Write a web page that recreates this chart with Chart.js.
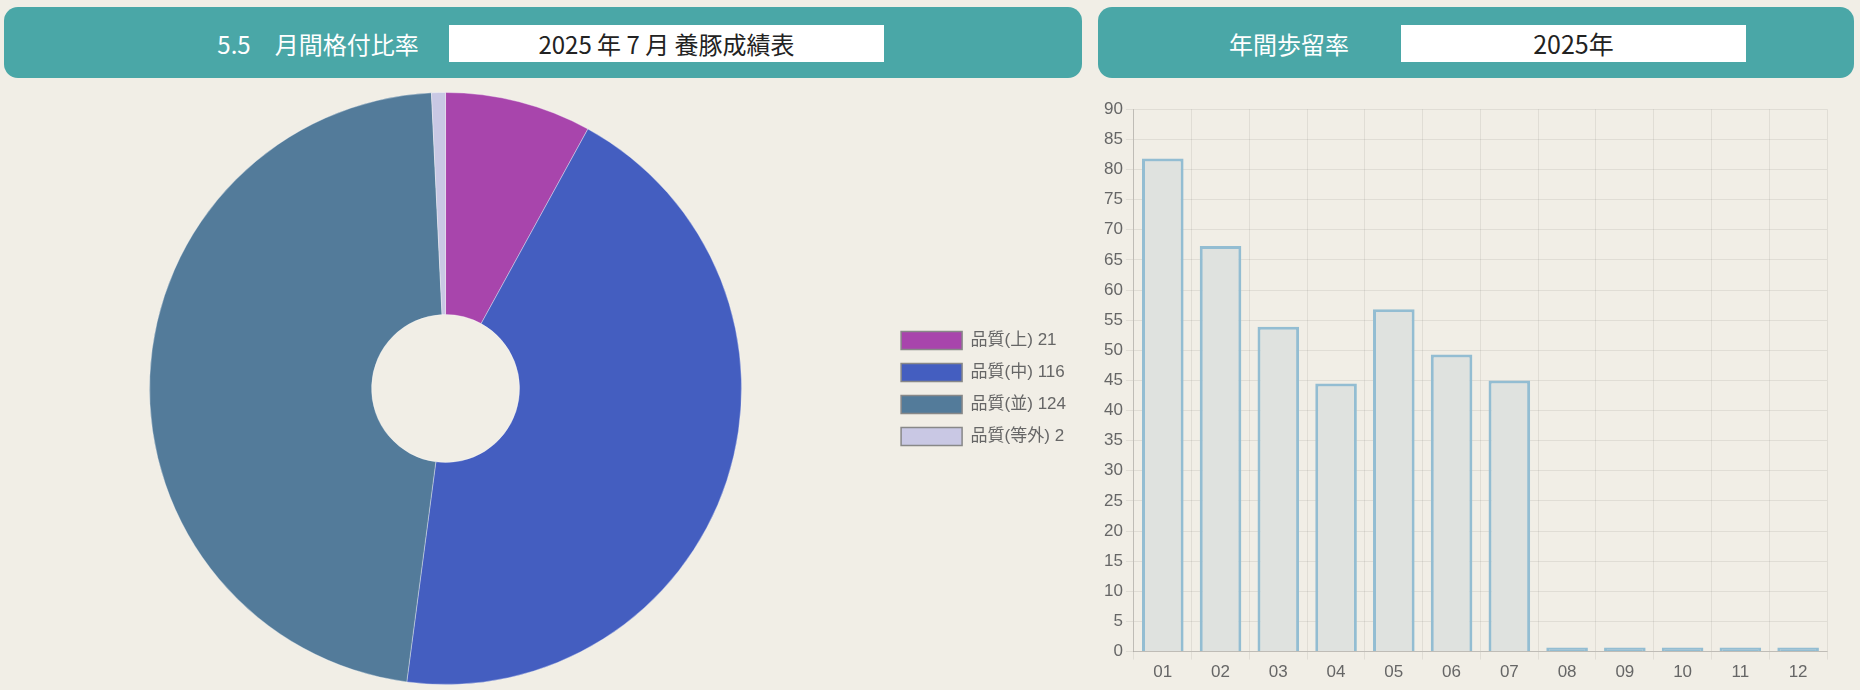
<!DOCTYPE html>
<html lang="ja">
<head>
<meta charset="utf-8">
<script src="https://cdn.jsdelivr.net/npm/chart.js@4/dist/chart.umd.min.js"></script>
<style>
  html, body { margin: 0; padding: 0; }
  body {
    width: 1860px; height: 690px; overflow: hidden; position: relative;
    background: #f1eee6;
    font-family: "Noto Sans CJK JP", "Noto Sans", sans-serif;
  }
  .head {
    position: absolute; top: 7px; height: 71px;
    background: #4aa7a7; border-radius: 14px;
  }
  .lbl {
    position: absolute; top: 25px; height: 37px; line-height: 37px;
    color: #fff; font-size: 24px; text-align: center; white-space: nowrap;
  }
  .box {
    position: absolute; top: 25px; height: 37px; line-height: 37px;
    background: #fff; color: #222; font-size: 24px; text-align: center; white-space: nowrap;
  }
  .wrap { position: absolute; }
</style>
</head>
<body>
<div class="head" style="left:4px; width:1078px;"></div>
<div class="lbl" style="left:198px; width:240px;">5.5　月間格付比率</div>
<div class="box" style="left:449px; width:435px;">2025 年 7 月 養豚成績表</div>

<div class="head" style="left:1098px; width:756px;"></div>
<div class="lbl" style="left:1189px; width:200px;">年間歩留率</div>
<div class="box" style="left:1401px; width:345px; font-size:25px;">2025年</div>

<div class="wrap" style="left:4px; top:92px; width:1072px; height:593px;"><canvas id="grade"></canvas></div>
<div class="wrap" style="left:1098px; top:96px; width:752px; height:594px;"><canvas id="yield"></canvas></div>

<script>
// 月間格付 (2025年7月)
const gradeNames = ['品質(上)', '品質(中)', '品質(並)', '品質(等外)'];
const gradeCounts = [21, 116, 124, 2];
const gradeColors = ['#a845ac', '#445ec0', '#537b9a', '#c9c8e4'];

// 年間歩留率
const months = ['01', '02', '03', '04', '05', '06', '07', '08', '09', '10', '11', '12'];
const yieldRates = [81.8, 67.3, 53.9, 44.5, 56.8, 49.3, 45.0, 0, 0, 0, 0, 0];

Chart.defaults.font.family = "'Helvetica Neue', Helvetica, Arial, 'Noto Sans CJK JP', sans-serif";
Chart.defaults.color = '#666';
Chart.defaults.animation = false;

var gradeLabels = gradeNames.map(function (n, i) { return n + ' ' + gradeCounts[i]; });

new Chart(document.getElementById('grade'), {
  type: 'doughnut',
  data: {
    labels: gradeLabels,
    datasets: [{
      data: gradeCounts,
      backgroundColor: gradeColors,
      borderColor: 'rgba(255,255,255,0.35)',
      borderWidth: 1
    }]
  },
  options: {
    responsive: true,
    maintainAspectRatio: false,
    cutout: '25%',
    layout: { padding: 0 },
    plugins: {
      tooltip: { enabled: false },
      legend: {
        position: 'right',
        labels: {
          boxWidth: 61,
          boxHeight: 18,
          padding: 14,
          font: { size: 17 },
          generateLabels: function (chart) {
            var items = Chart.overrides.doughnut.plugins.legend.labels.generateLabels(chart);
            items.forEach(function (it) { it.strokeStyle = '#888'; it.lineWidth = 1.5; });
            return items;
          }
        }
      }
    }
  }
});

var barLine = '#93bdd2';

new Chart(document.getElementById('yield'), {
  type: 'bar',
  data: {
    labels: months,
    datasets: [{
      data: yieldRates,
      // empty months show as a flat line on the axis
      backgroundColor: yieldRates.map(function (v) { return v === 0 ? barLine : '#dfe2df'; }),
      borderColor: barLine,
      borderWidth: 3,
      minBarLength: 4
    }]
  },
  options: {
    responsive: true,
    maintainAspectRatio: false,
    layout: { padding: { top: 5, right: 23, bottom: 4, left: 3 } },
    plugins: { legend: { display: false }, tooltip: { enabled: false } },
    scales: {
      x: {
        grid: { color: 'rgba(0,0,0,0.07)' },
        border: { color: 'rgba(0,0,0,0.15)' },
        ticks: { font: { size: 17 } }
      },
      y: {
        min: 0,
        max: 90,
        ticks: { stepSize: 5, font: { size: 17 } },
        grid: { color: 'rgba(0,0,0,0.07)' },
        border: { color: 'rgba(0,0,0,0.15)' }
      }
    }
  }
});
</script>
</body>
</html>
